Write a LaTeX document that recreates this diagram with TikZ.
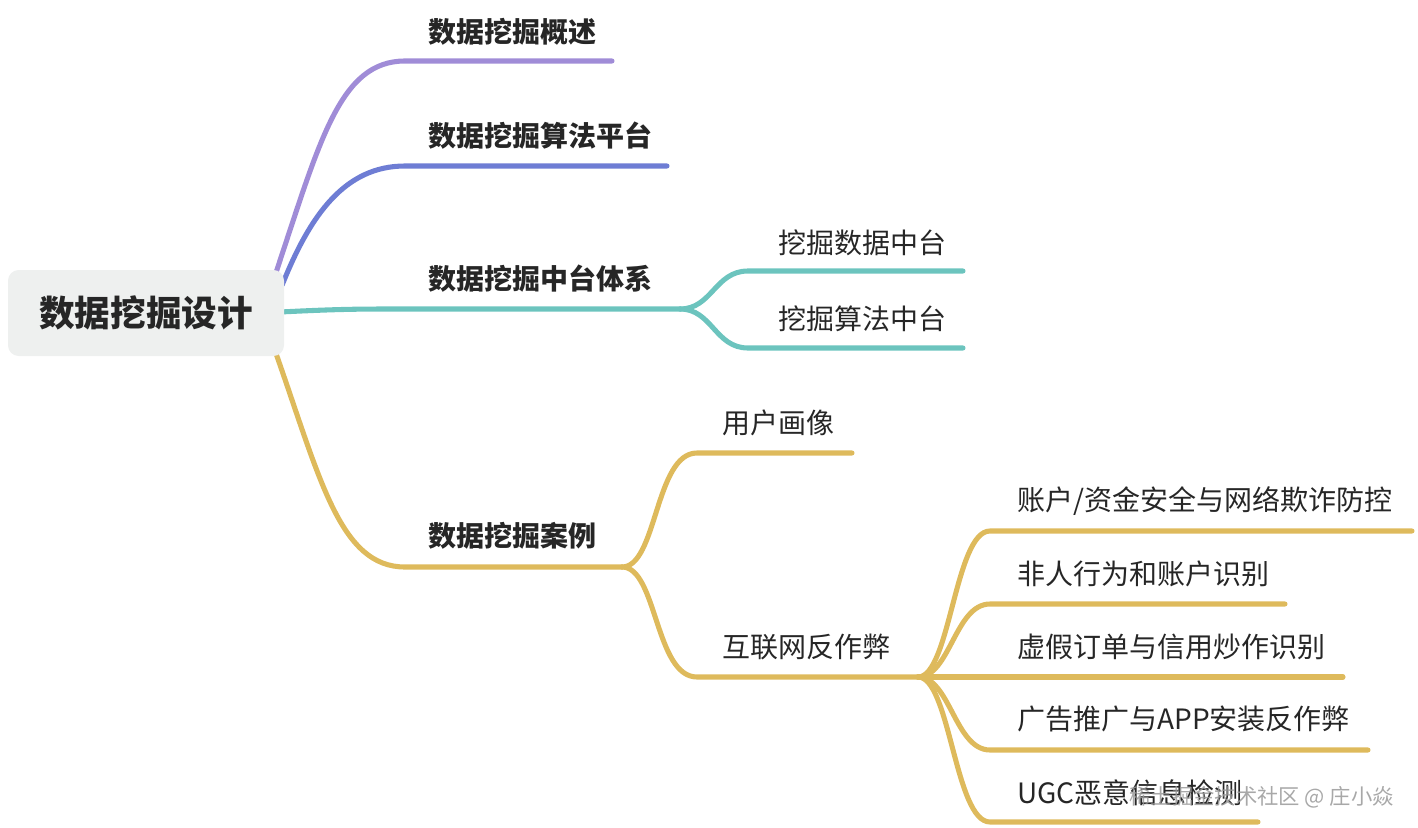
\documentclass[tikz,border=0pt]{standalone}
\usepackage{fontspec}
\setmainfont{Noto Sans CJK SC}
\usetikzlibrary{calc,backgrounds}
\definecolor{cpur}{RGB}{160,140,215}
\definecolor{cblue}{RGB}{110,125,212}
\definecolor{cteal}{RGB}{108,196,190}
\definecolor{cgold}{RGB}{222,186,92}
\definecolor{ctext}{RGB}{38,38,38}
\definecolor{cbox}{RGB}{238,240,239}
\begin{document}
\begin{tikzpicture}[x=0.75pt,y=-0.75pt,
  lbl/.style={anchor=west,inner sep=0pt,text=ctext,font=\fontsize{21}{21}\selectfont,text height=0.85em,text depth=0.1em,yshift=-3.6pt},
  lblb/.style={lbl,font=\fontsize{21}{21}\selectfont\bfseries},
  br/.style={line width=3.8pt,line cap=round},
]
\useasboundingbox (0,0) rectangle (1418,828);
\node[fill=cbox,rounded corners=8pt,minimum width=207pt,minimum height=64.5pt,inner sep=0pt,
  font=\fontsize{26.7}{26.7}\selectfont\bfseries,text=ctext] (root) at (146,313) {数据挖掘设计};

% level 1 labels
\node[lblb] (t1) at (428,33) {数据挖掘概述};
\node[lblb] (t2) at (428,137) {数据挖掘算法平台};
\node[lblb] (t3) at (428,280) {数据挖掘中台体系};
\node[lblb] (t4) at (428,537) {数据挖掘案例};
% level 2
\node[lbl] (t31) at (778,244) {挖掘数据中台};
\node[lbl] (t32) at (778,320) {挖掘算法中台};
\node[lbl] (t41) at (722,424) {用户画像};
\node[lbl] (t42) at (722,648) {互联网反作弊};
% level 3
\node[lbl] (u1) at (1017,501) {账户/资金安全与网络欺诈防控};
\node[lbl] (u2) at (1017,575) {非人行为和账户识别};
\node[lbl] (u3) at (1017,648) {虚假订单与信用炒作识别};
\node[lbl] (u4) at (1017,720) {广告推广与APP安装反作弊};
\node[lbl] (u5) at (1017,794) {UGC恶意信息检测};

% watermark
\node[anchor=east,inner sep=0pt,font=\fontsize{16}{16}\selectfont,text=black!40,opacity=.85,yshift=-2.5pt] (wm) at (1394,794) {稀土掘金技术社区 @ 庄小焱};

% coordinates
\coordinate (s1) at ($(root.north east)+(-8,2)$);
\coordinate (s2) at ($(root.north east)+(-2,15)$);
\coordinate (s3) at ($(root.east)+(-4,-1)$);
\coordinate (s4) at ($(root.south east)+(-8,-2)$);
\coordinate (a1) at (405,61);   \coordinate (e1) at (612,61);
\coordinate (a2) at (405,166);  \coordinate (e2) at (667,166);
\coordinate (a3) at (400,309);  \coordinate (j3) at (680,309);
\coordinate (a4) at (405,567);  \coordinate (j4) at (622,567);
\coordinate (a31) at (748,271); \coordinate (e31) at (963,271);
\coordinate (a32) at (748,348); \coordinate (e32) at (963,348);
\coordinate (a41) at (697,453); \coordinate (e41) at (852,453);
\coordinate (a42) at (697,677); \coordinate (j42) at (918,677);
\coordinate (b1) at (990,531);  \coordinate (f1) at (1412,531);
\coordinate (b2) at (990,604);  \coordinate (f2) at (1285,604);
\coordinate (f3) at (1343,677);
\coordinate (b4) at (990,750);  \coordinate (f4) at (1368,750);
\coordinate (b5) at (990,822);  \coordinate (f5) at (1258,822);

\begin{scope}[on background layer]
\draw[br,cpur] (s1) .. controls ($(s1)+(44,-132)$) and ($(a1)+(-65,0)$) .. (a1) -- (e1);
\draw[br,cblue] (s2) .. controls ($(s2)+(28,-70)$) and ($(a2)+(-60,0)$) .. (a2) -- (e2);
\draw[br,cteal] (s3) .. controls ($(s3)+(60,-3)$) and ($(a3)+(-40,0)$) .. (a3) -- (j3);
\draw[br,cgold] (s4) .. controls ($(s4)+(44,125)$) and ($(a4)+(-65,0)$) .. (a4) -- (j4);
\draw[br,cteal] (j3) .. controls ($(j3)+(32,0)$) and ($(a31)+(-33,0)$) .. (a31) -- (e31);
\draw[br,cteal] (j3) .. controls ($(j3)+(32,0)$) and ($(a32)+(-33,0)$) .. (a32) -- (e32);
\draw[br,cgold] (j4) .. controls ($(j4)+(35,0)$) and ($(a41)+(-42,0)$) .. (a41) -- (e41);
\draw[br,cgold] (j4) .. controls ($(j4)+(35,0)$) and ($(a42)+(-42,0)$) .. (a42) -- (j42);
\draw[br,cgold] (j42) .. controls ($(j42)+(32,0)$) and ($(b1)+(-35,0)$) .. (b1) -- (f1);
\draw[br,cgold] (j42) .. controls ($(j42)+(32,0)$) and ($(b2)+(-35,0)$) .. (b2) -- (f2);
\draw[br,cgold] (j42) -- (f3);
\draw[br,cgold] (j42) .. controls ($(j42)+(32,0)$) and ($(b4)+(-35,0)$) .. (b4) -- (f4);
\draw[br,cgold] (j42) .. controls ($(j42)+(32,0)$) and ($(b5)+(-35,0)$) .. (b5) -- (f5);
\end{scope}
\end{tikzpicture}
\end{document}
